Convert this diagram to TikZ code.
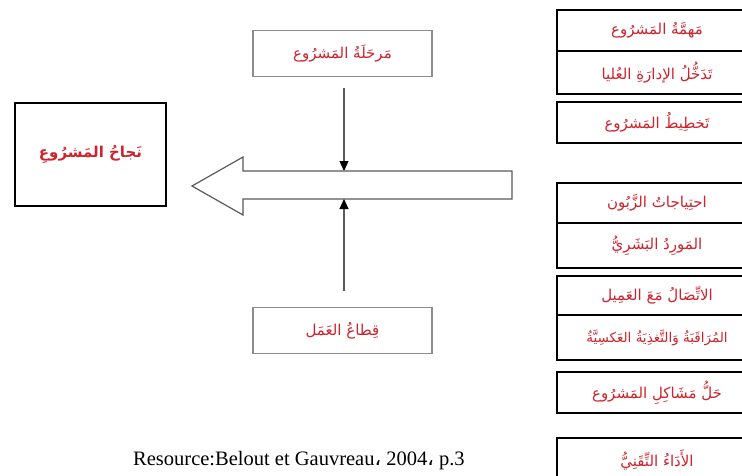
\documentclass[tikz,border=0pt]{standalone}
\usepackage{fontspec}
\setmainfont{Liberation Serif}
\newfontfamily\arabicfont[Script=Arabic]{DejaVu Sans}
\TeXXeTstate=1
\usetikzlibrary{arrows.meta}
\definecolor{txtred}{RGB}{205,35,45}
\definecolor{linegray}{RGB}{90,90,90}
\definecolor{boxgray}{RGB}{140,140,140}
\tikzset{
  rbox/.style={draw=black, line width=1.8pt, minimum width=200pt, inner sep=0pt,
    font=\arabicfont\fontsize{15}{18}\selectfont, text=txtred},
  mbox/.style={draw=boxgray, line width=1.2pt, minimum width=179pt, minimum height=46pt, inner sep=0pt,
    font=\arabicfont\fontsize{15}{18}\selectfont, text=txtred},
  lbox/.style={draw=black, line width=2.6pt, minimum width=151pt, minimum height=103pt, inner sep=0pt,
    font=\arabicfont\bfseries\fontsize{15}{18}\selectfont, text=txtred},
  smallarrow/.style={draw=linegray, line width=1.1pt, -{Triangle[length=10pt,width=9pt,color=black]}},
  bigarrow/.style={draw=linegray, line width=1.2pt, fill=white, line join=miter}
}
\begin{document}
\begin{tikzpicture}[x=1pt,y=-1pt]
\useasboundingbox (0,0) rectangle (742,475);
\clip (0,0) rectangle (742,475);
% right column
\node[rbox, minimum height=41pt] (b1) at (657,30.5) {\beginR مَهمَّةُ المَشرُوع\endR};
\node[rbox, minimum height=43pt] (b2) at (657,72.5) {\beginR تَدَخُّلُ الإدارَةِ العُليا\endR};
\node[rbox, minimum height=41pt] (b3) at (657,122.5) {\beginR تَخطِيطُ المَشرُوع\endR};
\node[rbox, minimum height=40pt] (b4) at (657,203) {\beginR احتِياجاتُ الزَّبُون\endR};
\node[rbox, minimum height=45pt] (b5) at (657,245.5) {\beginR المَورِدُ البَشَرِيُّ\endR};
\node[rbox, minimum height=39pt] (b6) at (657,295.5) {\beginR الاتِّصَالُ مَعَ العَمِيل\endR};
\node[rbox, minimum height=45pt, font=\arabicfont\fontsize{13.5}{17}\selectfont] (b7) at (657,337.5) {\beginR المُرَاقَبَةُ وَالتَّغذِيَةُ العَكسِيَّةُ\endR};
\node[rbox, minimum height=41pt] (b8) at (657,392.5) {\beginR حَلُّ مَشَاكِلِ المَشرُوع\endR};
\node[rbox, minimum height=44pt] (b9) at (657,460) {\beginR الأَدَاءُ التِّقَنِيُّ\endR};
% middle boxes
\node[mbox] (phase) at (342.5,53.5) {\beginR مَرحَلَةُ المَشرُوع\endR};
\node[mbox] (sector) at (342.5,330.5) {\beginR قِطاعُ العَمَل\endR};
% left box
\node[lbox] (success) at (90.5,154.5) {\beginR نَجاحُ المَشرُوعِ\endR};
% big arrow
\draw[bigarrow] (512,171) -- (243,171) -- (243,157) -- (192,186) -- (243,215) -- (243,199) -- (512,199) -- cycle;
\coordinate (atop) at (344,171);
\coordinate (abot) at (344,199);
\coordinate (phasefoot) at (344,88);
\coordinate (sectorhead) at (344,291);
\draw[smallarrow] (phasefoot) -- (atop);
\draw[smallarrow] (sectorhead) -- (abot);
% caption
\node[anchor=base west, font=\fontsize{20.5}{24}\selectfont, inner sep=0pt] (cap) at (133,465)
  {Resource:Belout et Gauvreau{\arabicfont ،} 2004{\arabicfont ،} p.3};
\end{tikzpicture}
\end{document}
